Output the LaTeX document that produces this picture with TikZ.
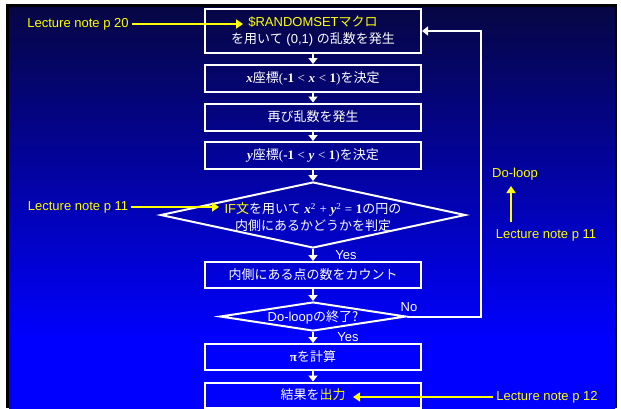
\documentclass[tikz,border=0pt]{standalone}
\usepackage{fontspec}
\setmainfont{Liberation Sans}
\newfontfamily\jp{Noto Sans CJK JP}
\newfontfamily\tnr{Liberation Serif}
\usetikzlibrary{arrows.meta,shapes.geometric}
\newcommand\J[1]{{\jp #1}}
\newcommand\vi[1]{{\tnr\bfseries\itshape #1}}
\newcommand\vb[1]{{\tnr\bfseries #1}}
\newcommand\vr[1]{{\tnr #1}}
\definecolor{bgtop}{RGB}{6,6,68}
\definecolor{bgbot}{RGB}{0,0,255}
\definecolor{ylw}{RGB}{255,255,0}
\pgfdeclareverticalshading{bgshade}{100bp}{color(0bp)=(bgbot); color(25bp)=(bgbot); color(33.5bp)=(bgbot); color(75bp)=(bgtop); color(100bp)=(bgtop)}
\tikzset{
  box/.style={draw=white, line width=2pt, minimum width=216pt, inner sep=0pt, text=white, align=center, font=\fontsize{13}{17}\selectfont},
  dia/.style={draw=white, line width=2pt, diamond, inner sep=0pt},
  lbl/.style={text=white, inner sep=0pt, font=\fontsize{13}{16}\selectfont},
  note/.style={text=ylw, inner sep=3pt, font=\fontsize{13}{16}\selectfont},
  warrow/.style={draw=white, line width=2pt, -{Triangle[width=9pt,length=6pt]}},
  yarrow/.style={draw=ylw, line width=2pt, -{Triangle[width=9pt,length=7pt]}}
}
\begin{document}
\begin{tikzpicture}[x=1pt,y=-1pt]
\useasboundingbox (0,0) rectangle (621,408);
\fill[white] (0,0) rectangle (621,408);
\fill[black] (6,4) rectangle (617,408);
\shade[shading=bgshade] (9,7) rectangle (615,408);

\node[box, minimum height=44pt] (b1) at (313,31) {\textcolor{ylw}{\$RANDOMSET\J{マクロ}}\\\J{を用いて} (0,1) \J{の乱数を発生}};
\node[box, minimum height=27pt] (b2) at (313,78.5) {\vi{x}\J{座標}\vr{(}\vb{-1} \vr{<} \vi{x} \vr{<} \vb{1}\vr{)}\J{を決定}};
\node[box, minimum height=27pt] (b3) at (313,117) {\J{再び乱数を発生}};
\node[box, minimum height=27pt] (b4) at (313,155.5) {\vi{y}\J{座標}\vr{(}\vb{-1} \vr{<} \vi{y} \vr{<} \vb{1}\vr{)}\J{を決定}};
\node[dia, minimum width=305pt, minimum height=66pt] (d1) at (313,215) {};
\node[lbl, align=center, font=\fontsize{13}{16.5}\selectfont] (t1) at (313,217) {\textcolor{ylw}{IF\J{文}}\J{を用いて} \vi{x}\vr{\textsuperscript{2}} \vr{+} \vi{y}\vr{\textsuperscript{2}} \vr{=} \vb{1}\J{の円の}\\\J{内側にあるかどうかを判定}};
\node[box, minimum height=26pt] (b5) at (313,275) {\J{内側にある点の数をカウント}};
\node[dia, minimum width=186pt, minimum height=29pt] (d2) at (313,316.5) {};
\node[lbl] (t2) at (313,317) {Do-loop\J{の終了?}};
\node[box, minimum height=26pt] (b6) at (313,357) {\vb{π}\J{を計算}};
\node[box, minimum height=25pt] (b7) at (313,395) {\J{結果を}\textcolor{ylw}{\J{出力}}};

\draw[warrow] (b1.south) -- (b2.north);
\draw[warrow] (b2.south) -- (b3.north);
\draw[warrow] (b3.south) -- (b4.north);
\draw[warrow] (b4.south) -- (d1.north);
\draw[warrow] (d1.south) -- (b5.north);
\draw[warrow] (b5.south) -- (d2.north);
\draw[warrow] (d2.south) -- (b6.north);
\draw[warrow] (b6.south) -- (b7.north);
\coordinate (lp) at (481,31);
\draw[warrow] (d2.east) -| (lp) -- (b1.east);

\node[lbl] (yes1) at (346,255) {Yes};
\node[lbl] (yes2) at (348,337) {Yes};
\node[lbl] (no) at (409,307) {No};

\node[note] (n20) at (78,24) {Lecture note p 20};
\coordinate (n20t) at (243,24);
\draw[yarrow] (n20.east) -- (n20t);
\node[note] (n11) at (78,207) {Lecture note p 11};
\coordinate (n11t) at (219,207);
\draw[yarrow] (n11.east) -- (n11t);
\node[note] (dl) at (515,174) {Do-loop};
\node[note] (n11r) at (546,235) {Lecture note p 11};
\coordinate (ya) at (511,222);
\coordinate (yb) at (511,186);
\draw[yarrow] (ya) -- (yb);
\node[note] (n12) at (547,397) {Lecture note p 12};
\coordinate (n12t) at (353,397);
\draw[yarrow] (n12.west) -- (n12t);
\end{tikzpicture}
\end{document}
